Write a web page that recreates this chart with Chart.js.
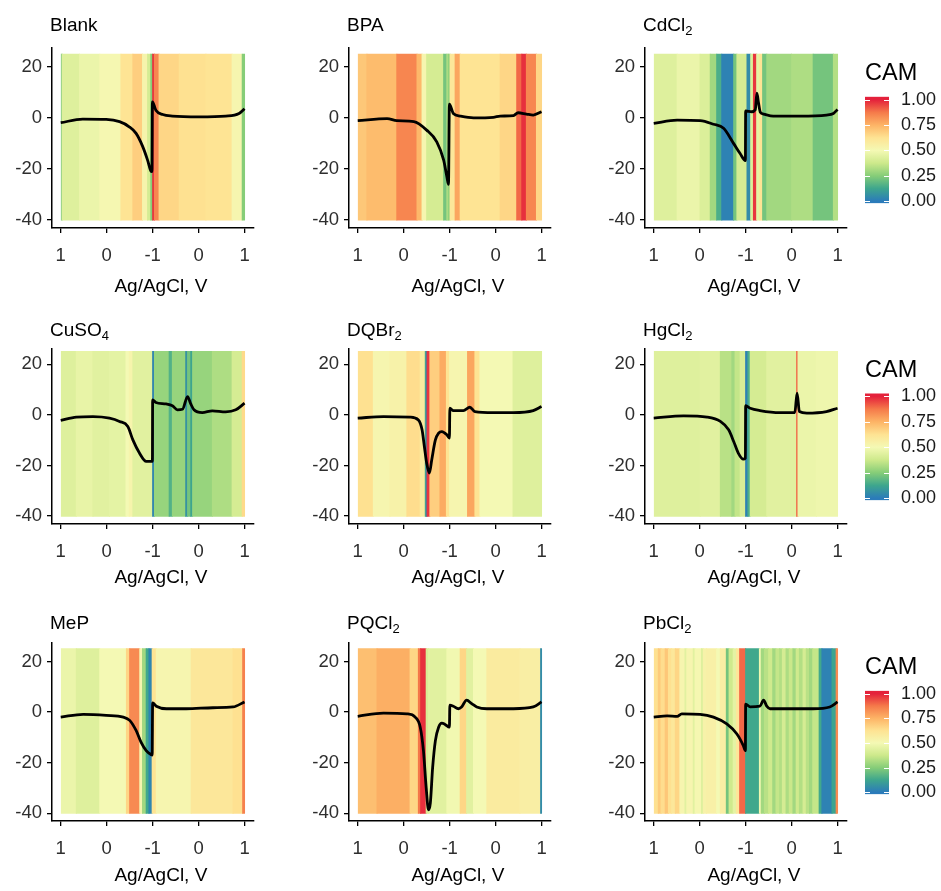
<!DOCTYPE html>
<html>
<head>
<meta charset="utf-8">
<title>CAM heatmaps</title>
<script src="https://cdn.jsdelivr.net/npm/chart.js@4.4.1/dist/chart.umd.min.js"></script>
<style>
  html, body { margin: 0; padding: 0; background: #fff; }
  #page { position: relative; width: 941px; height: 891px; overflow: hidden; background: #fff; }
  #page canvas { position: absolute; }
</style>
</head>
<body>
<div id="page"></div>
<script>
// scan position 0..4 runs 1 V -> -1 V -> 1 V
const scanTickLabels = ['1', '0', '-1', '0', '1'];
const yTicks = [-40, -20, 0, 20];
const camTicks = [0, 0.25, 0.5, 0.75, 1];
const bandLow = -40;   // heatmap covers this current range
const bandHigh = 25;
const xAxisTitle = 'Ag/AgCl, V';

// colour scale of the CAM legend
const camStops = [0, 0.125, 0.25, 0.375, 0.5, 0.625, 0.75, 0.875, 1];
const camColors = ['#2b7bba', '#3ea68d', '#86cd78', '#cde98b', '#f4f9b4', '#fee393', '#fdb466', '#f57a4a', '#e4213b'];

// stripes: edges along the scan and the CAM value of each stripe
const blankEdges = [0, 0.03, 0.41, 0.85, 1.31, 1.57, 1.78, 1.89, 1.96, 2.0, 2.04, 2.14, 2.58, 3.16, 3.73, 3.95, 4];
const blankCam = [0.22, 0.43, 0.47, 0.51, 0.62, 0.68, 0.53, 0.4, 0.25, 0.97, 0.85, 0.66, 0.63, 0.62, 0.52, 0.25];
const blankScan = [0, 0.48, 0.99, 1.28, 1.49, 1.64, 1.78, 1.89, 1.96, 1.985, 1.995, 2.07, 2.22, 2.43, 3.01, 3.59, 3.88, 4];
const blankCurrent = [-1.8, -0.4, -0.5, -1.4, -3.4, -6, -11, -16.5, -20.7, -21, 6.4, 3.1, 1.4, 0.8, 0.5, 0.8, 1.8, 3.7];

const bpaEdges = [0, 0.2, 0.85, 1.29, 1.4, 1.5, 1.87, 1.94, 1.97, 2.01, 2.12, 2.23, 3.1, 3.46, 3.57, 3.67, 3.89, 4];
const bpaCam = [0.7, 0.73, 0.85, 0.74, 0.52, 0.4, 0.22, 0.33, 0.27, 0.6, 0.78, 0.62, 0.66, 0.9, 0.98, 0.85, 0.66];
const bpaScan = [0, 0.64, 0.85, 1.22, 1.5, 1.72, 1.87, 1.94, 1.975, 1.995, 2.08, 2.23, 2.52, 2.95, 3.1, 3.39, 3.49, 3.67, 3.82, 4];
const bpaCurrent = [-1.0, -0.2, -1.0, -1.4, -4.7, -9.3, -16.5, -23, -26, 5.5, 1.8, 0.8, 0.1, 0.3, 0.8, 1.0, 2.1, 1.6, 1.2, 2.5];

const cdEdges = [0, 0.51, 1.01, 1.23, 1.37, 1.48, 1.74, 1.81, 2.03, 2.11, 2.17, 2.24, 2.31, 2.37, 2.46, 3.0, 3.47, 3.91, 4];
const cdCam = [0.43, 0.47, 0.42, 0.3, 0.15, 0.02, 0.22, 0.4, 0.05, 0.42, 0.97, 0.45, 0.62, 0.22, 0.3, 0.32, 0.22, 0.33];
const cdScan = [0, 0.51, 1.01, 1.3, 1.52, 1.74, 1.88, 1.995, 2.0, 2.13, 2.21, 2.245, 2.28, 2.32, 2.39, 2.6, 3.18, 3.76, 3.91, 4];
const cdCurrent = [-2.1, -0.8, -1.0, -2.4, -4, -10, -13.9, -16.7, 2.8, 2.5, 3.3, 9.8, 6, 2.3, 1.6, 0.8, 0.8, 1.2, 1.8, 3.4];

const cuEdges = [0, 0.34, 0.7, 1.06, 1.42, 1.49, 1.57, 2.0, 2.04, 2.36, 2.43, 2.72, 2.76, 2.83, 2.87, 3.3, 3.73, 3.95, 4];
const cuCam = [0.43, 0.46, 0.44, 0.45, 0.5, 0.53, 0.44, 0.03, 0.28, 0.16, 0.28, 0.07, 0.22, 0.12, 0.28, 0.32, 0.4, 0.65];
const cuScan = [0, 0.34, 0.7, 1.06, 1.28, 1.46, 1.57, 1.71, 1.86, 1.995, 2.0, 2.07, 2.29, 2.43, 2.54, 2.65, 2.76, 2.83, 2.9, 3.08, 3.3, 3.59, 3.81, 4];
const cuCurrent = [-2.2, -0.9, -0.7, -1.3, -2.6, -4.6, -9.9, -15, -18.4, -18.4, 5.9, 4.9, 4.3, 3.6, 2, 2.2, 7.2, 4.3, 2, 0.9, 1.6, 1.2, 2, 4.6];

const dqEdges = [0, 0.34, 0.7, 1.07, 1.36, 1.47, 1.49, 1.51, 1.57, 1.79, 1.93, 2.0, 2.39, 2.55, 2.66, 3.38, 4];
const dqCam = [0.63, 0.52, 0.54, 0.64, 0.58, 0.15, 0.03, 0.97, 0.68, 0.77, 0.62, 0.52, 0.78, 0.62, 0.5, 0.43];
const dqScan = [0, 0.56, 1.14, 1.32, 1.4, 1.45, 1.5, 1.56, 1.61, 1.69, 1.76, 1.83, 1.94, 1.995, 2.005, 2.08, 2.3, 2.44, 2.55, 2.95, 3.39, 3.82, 4];
const dqCurrent = [-1.3, -0.7, -0.9, -2, -5.9, -12.5, -19, -23, -17.8, -9.9, -7.2, -6.6, -7.9, -9.2, 2.6, 1.7, 1.7, 3, 1.3, 0.9, 0.9, 1.7, 3.3];

const hgEdges = [0, 1.01, 1.45, 1.7, 1.77, 1.88, 2.0, 2.05, 2.1, 2.46, 3.11, 3.14, 3.54, 4];
const hgCam = [0.43, 0.44, 0.34, 0.3, 0.36, 0.41, 0.02, 0.15, 0.4, 0.44, 0.9, 0.47, 0.48];
const hgScan = [0, 0.65, 1.16, 1.45, 1.63, 1.74, 1.84, 1.95, 1.995, 2.0, 2.1, 2.31, 2.75, 3.07, 3.12, 3.17, 3.33, 3.76, 4];
const hgCurrent = [-1.3, -0.4, -0.9, -2.6, -5.9, -10.5, -15.1, -17.5, -17.1, 3.6, 2.6, 1.7, 0.9, 0.9, 8.6, 1.3, 0.7, 1.3, 2.6];

const meEdges = [0, 0.34, 0.85, 1.43, 1.5, 1.72, 1.78, 1.86, 1.92, 1.99, 2.08, 2.84, 3.75, 3.96, 4];
const meCam = [0.47, 0.43, 0.5, 0.66, 0.84, 0.52, 0.3, 0.13, 0.03, 0.62, 0.52, 0.6, 0.63, 0.86];
const meScan = [0, 0.49, 0.99, 1.36, 1.5, 1.64, 1.75, 1.86, 1.97, 1.99, 2.0, 2.08, 2.3, 2.73, 3.31, 3.75, 4];
const meCurrent = [-2, -0.9, -1.3, -2, -3.3, -7.3, -12, -15.3, -16.9, -17, 3.6, 2.3, 1.3, 1.3, 1.7, 2, 4];

const pqEdges = [0, 0.42, 1.14, 1.32, 1.37, 1.49, 1.54, 1.94, 2.23, 2.37, 2.52, 2.81, 3.53, 3.98, 4];
const pqCam = [0.72, 0.76, 0.66, 0.88, 0.98, 0.41, 0.44, 0.49, 0.66, 0.44, 0.5, 0.58, 0.56, 0.05];
const pqScan = [0, 0.56, 1.07, 1.25, 1.36, 1.43, 1.49, 1.54, 1.58, 1.63, 1.69, 1.76, 1.83, 1.9, 1.995, 2.005, 2.08, 2.19, 2.26, 2.37, 2.48, 2.59, 2.81, 3.39, 3.82, 4];
const pqCurrent = [-1.7, -0.4, -0.7, -2, -6, -15.3, -30, -38.7, -36, -22, -11.3, -6, -4.4, -4.9, -6, 2.7, 2.3, 1.3, 2, 4.7, 3.3, 2, 1.3, 1.3, 2, 4];

const pbEdges = [0, 0.1, 0.16, 0.25, 0.32, 0.39, 0.47, 0.57, 0.68, 0.72, 0.86, 0.9, 1.04, 1.08, 1.15, 1.37, 1.45, 1.58, 1.64, 1.73,
  1.8, 1.87, 2.0, 2.3, 2.34, 2.41, 2.5, 2.59, 2.66, 2.74, 2.8, 2.88, 2.95, 3.03, 3.1, 3.17, 3.25, 3.32, 3.39, 3.46, 3.6, 3.66, 3.88, 3.97, 4];
const pbCam = [0.63, 0.69, 0.64, 0.7, 0.63, 0.6, 0.66, 0.52, 0.44, 0.52, 0.44, 0.51, 0.43, 0.54, 0.55, 0.5, 0.56, 0.22, 0.38, 0.45,
  0.6, 0.9, 0.13, 0.49, 0.3, 0.34, 0.38, 0.3, 0.36, 0.33, 0.4, 0.32, 0.37, 0.3, 0.38, 0.33, 0.4, 0.34, 0.3, 0.36, 0.13, 0.02, 0.12, 0.84];
const pbScan = [0, 0.29, 0.51, 0.61, 1.01, 1.3, 1.59, 1.81, 1.95, 1.995, 2.0, 2.1, 2.31, 2.39, 2.46, 2.53, 2.89, 3.47, 3.83, 4];
const pbCurrent = [-2, -1.5, -1.7, -0.7, -0.9, -2, -4.7, -8.7, -13.3, -15.3, 3.1, 2, 2.3, 4.7, 2.3, 1.3, 1.3, 1.3, 2, 4];

const panels = [
  { title: 'Blank', sub: '', edges: blankEdges, cam: blankCam, scan: blankScan, current: blankCurrent },
  { title: 'BPA', sub: '', edges: bpaEdges, cam: bpaCam, scan: bpaScan, current: bpaCurrent },
  { title: 'CdCl', sub: '2', edges: cdEdges, cam: cdCam, scan: cdScan, current: cdCurrent },
  { title: 'CuSO', sub: '4', edges: cuEdges, cam: cuCam, scan: cuScan, current: cuCurrent },
  { title: 'DQBr', sub: '2', edges: dqEdges, cam: dqCam, scan: dqScan, current: dqCurrent },
  { title: 'HgCl', sub: '2', edges: hgEdges, cam: hgCam, scan: hgScan, current: hgCurrent },
  { title: 'MeP', sub: '', edges: meEdges, cam: meCam, scan: meScan, current: meCurrent },
  { title: 'PQCl', sub: '2', edges: pqEdges, cam: pqCam, scan: pqScan, current: pqCurrent },
  { title: 'PbCl', sub: '2', edges: pbEdges, cam: pbCam, scan: pbScan, current: pbCurrent }
];

// page layout (pixels)
const colLeft = [0, 297, 593];          // canvas left of each column
const rowTop = [0, 301, 595];           // canvas top of each row
const rowPlotH = [180, 175, 178];
const rowYMax = [27.5, 26, 27.3];
const yMin = -43.1;
const rowTitleGap = [22, 18, 19.5];
const rowXTitleGap = [59, 54, 54.3];
const legendOne = [100, 396.7, 694];    // pixel of CAM = 1
const legendZero = [210.5, 507.3, 801.7];
const legendCamTitle = [74, 370.3, 667.5];

const fontFamily = "'Liberation Sans', Arial, Helvetica, sans-serif";
Chart.defaults.font.family = fontFamily;
const tickSize = 18.5;
const titleSize = 19;
const subSize = 13;
const axisTitleSize = 19;
const camTitleSize = 23.5;
const camLabelSize = 18;

const camRgb = camColors.map(h => [1, 3, 5].map(i => parseInt(h.slice(i, i + 2), 16)));
function camColor(v) {
  const t = Math.min(1, Math.max(0, v));
  let k = 0;
  while (k < camStops.length - 2 && t > camStops[k + 1]) k++;
  const f = (t - camStops[k]) / (camStops[k + 1] - camStops[k]);
  const c = camRgb[k].map((a, j) => Math.round(a + (camRgb[k + 1][j] - a) * f));
  return 'rgb(' + c[0] + ',' + c[1] + ',' + c[2] + ')';
}

const page = document.getElementById('page');
function makeCanvas(left, top, w, h) {
  const c = document.createElement('canvas');
  c.width = w;
  c.height = h;
  c.style.left = left + 'px';
  c.style.top = top + 'px';
  c.style.width = w + 'px';
  c.style.height = h + 'px';
  page.appendChild(c);
  return c;
}

// panel title (with subscript) and x axis title
const panelText = {
  id: 'panelText',
  afterDraw(chart, args, opts) {
    const { ctx, chartArea: a } = chart;
    ctx.save();
    ctx.fillStyle = '#000';
    ctx.textBaseline = 'middle';
    ctx.textAlign = 'left';
    ctx.font = titleSize + 'px ' + fontFamily;
    const ty = a.top - opts.titleGap;
    ctx.fillText(opts.title, a.left - 2, ty);
    if (opts.sub) {
      const w = ctx.measureText(opts.title).width;
      ctx.font = subSize + 'px ' + fontFamily;
      ctx.fillText(opts.sub, a.left - 2 + w, ty + 5.5);
    }
    ctx.font = axisTitleSize + 'px ' + fontFamily;
    ctx.textAlign = 'center';
    ctx.fillText(xAxisTitle, (a.left + a.right) / 2 + 8, a.bottom + opts.xTitleGap);
    ctx.restore();
  }
};

const tickFont = { size: tickSize, family: fontFamily };

panels.forEach((p, i) => {
  const row = Math.floor(i / 3);
  const col = i % 3;
  const canvas = makeCanvas(colLeft[col], rowTop[row], 262, 48 + rowPlotH[row] + 70);
  new Chart(canvas, {
    type: 'line',
    data: {
      datasets: [
        {
          type: 'line',
          data: p.scan.map((u, k) => ({ x: u, y: p.current[k] })),
          borderColor: '#000',
          borderWidth: 2.8,
          pointRadius: 0,
          cubicInterpolationMode: 'monotone',
          fill: false,
          order: 0
        },
        {
          type: 'bar',
          indexAxis: 'y',
          xAxisID: 'x',
          yAxisID: 'yBand',
          data: p.cam.map((v, k) => ({ x: [p.edges[k], p.edges[k + 1]], y: (bandLow + bandHigh) / 2 })),
          backgroundColor: p.cam.map(camColor),
          borderWidth: 0,
          barPercentage: 1,
          categoryPercentage: 1,
          inflateAmount: 0.5,
          order: 1
        }
      ]
    },
    options: {
      responsive: false,
      animation: false,
      events: [],
      layout: { padding: { top: 48, left: 0, right: 7, bottom: 0 } },
      plugins: {
        legend: { display: false },
        tooltip: { enabled: false },
        panelText: { title: p.title, sub: p.sub, titleGap: rowTitleGap[row], xTitleGap: rowXTitleGap[row] }
      },
      scales: {
        x: {
          type: 'linear',
          min: -0.19,
          max: 4.2,
          offset: false,
          afterBuildTicks: s => { s.ticks = scanTickLabels.map((_, k) => ({ value: k })); },
          afterFit: s => { s.height = 70; },
          ticks: { callback: v => scanTickLabels[v], color: '#2e2e2e', font: tickFont, padding: 12, maxRotation: 0, autoSkip: false },
          grid: { drawOnChartArea: false, color: '#000', lineWidth: 1.3, tickLength: 5, offset: false },
          border: { color: '#000', width: 1.5 }
        },
        y: {
          type: 'linear',
          min: yMin,
          max: rowYMax[row],
          afterBuildTicks: s => { s.ticks = yTicks.map(v => ({ value: v })); },
          afterFit: s => { s.width = 52; },
          ticks: { callback: v => String(v), color: '#2e2e2e', font: tickFont, padding: 5 },
          grid: { drawOnChartArea: false, color: '#000', lineWidth: 1.3, tickLength: 5 },
          border: { color: '#000', width: 1.5 }
        },
        yBand: {
          type: 'linear',
          display: false,
          offset: false,
          grid: { offset: false },
          min: yMin,
          max: rowYMax[row],
          afterBuildTicks: s => { s.ticks = [{ value: bandLow }, { value: bandHigh }]; }
        }
      }
    },
    plugins: [panelText]
  });
});

// white tick marks on the colour bar
const colorbarTicks = {
  id: 'colorbarTicks',
  afterDatasetsDraw(chart) {
    const { ctx, chartArea: a, scales } = chart;
    ctx.save();
    ctx.strokeStyle = '#fff';
    ctx.lineWidth = 1;
    camTicks.forEach(v => {
      const py = Math.round(scales.y.getPixelForValue(v)) + 0.5;
      ctx.beginPath();
      ctx.moveTo(a.left, py);
      ctx.lineTo(a.left + 5, py);
      ctx.moveTo(a.right - 5, py);
      ctx.lineTo(a.right, py);
      ctx.stroke();
    });
    ctx.restore();
  }
};

const camLow = -0.02;
const camHigh = 1.03;
for (let row = 0; row < 3; row++) {
  const ppu = legendZero[row] - legendOne[row];
  const areaTop = legendOne[row] - (camHigh - 1) * ppu;
  const areaBottom = legendZero[row] + (0 - camLow) * ppu;
  const top = Math.round(areaTop - 40);
  const titleH = areaTop - top;
  const lh = camTitleSize * 1.2;
  const padTop = legendCamTitle[row] - top - lh / 2;
  const canvas = makeCanvas(865, top, 76, Math.round(areaBottom - top + 13));
  new Chart(canvas, {
    type: 'bar',
    data: {
      labels: ['CAM'],
      datasets: [{
        data: [[camLow, camHigh]],
        backgroundColor: ctx => {
          const ch = ctx.chart;
          if (!ch.chartArea) return camColors[4];
          const sy = ch.scales.y;
          const g = ch.ctx.createLinearGradient(0, sy.getPixelForValue(0), 0, sy.getPixelForValue(1));
          camStops.forEach((s, k) => g.addColorStop(s, camColors[k]));
          return g;
        },
        borderWidth: 0,
        barPercentage: 1,
        categoryPercentage: 1
      }]
    },
    options: {
      responsive: false,
      animation: false,
      events: [],
      layout: { padding: { top: 0, left: 0, right: 0, bottom: 13 } },
      plugins: {
        legend: { display: false },
        tooltip: { enabled: false },
        title: {
          display: true,
          text: 'CAM',
          align: 'start',
          color: '#000',
          font: { size: camTitleSize, weight: 'normal', family: fontFamily, lineHeight: 1.2 },
          padding: { top: padTop, bottom: titleH - padTop - lh }
        }
      },
      scales: {
        x: { display: false },
        y: {
          position: 'right',
          min: camLow,
          max: camHigh,
          afterBuildTicks: s => { s.ticks = camTicks.map(v => ({ value: v })); },
          afterFit: s => { s.width = 52; },
          ticks: { callback: v => v.toFixed(2), color: '#1a1a1a', font: { size: camLabelSize, family: fontFamily }, padding: 12 },
          grid: { display: false, drawTicks: false, tickLength: 0 },
          border: { display: false }
        }
      }
    },
    plugins: [colorbarTicks]
  });
}
</script>
</body>
</html>
